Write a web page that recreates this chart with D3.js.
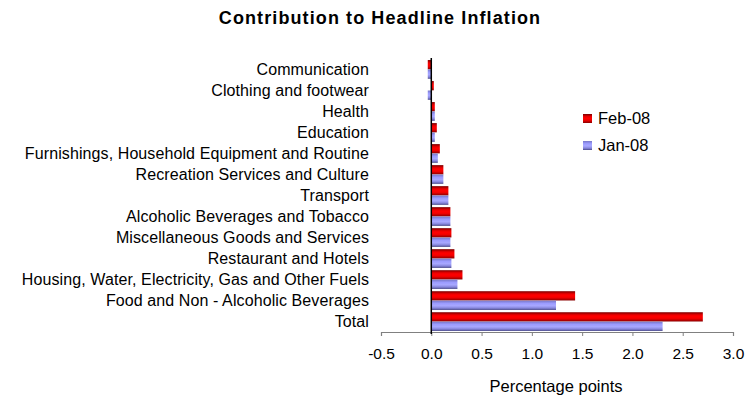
<!DOCTYPE html>
<html>
<head>
<meta charset="utf-8">
<script src="https://cdn.jsdelivr.net/npm/d3@7"></script>
<style>
  html, body { margin: 0; padding: 0; background: #fff; }
  svg { display: block; font-family: "Liberation Sans", Arial, sans-serif; }
</style>
</head>
<body>
<svg id="chart" width="748" height="401"></svg>
<script>
// Categories, listed top to bottom
const categories = [
  "Communication",
  "Clothing and footwear",
  "Health",
  "Education",
  "Furnishings, Household Equipment and Routine",
  "Recreation Services and Culture",
  "Transport",
  "Alcoholic Beverages and Tobacco",
  "Miscellaneous Goods and Services",
  "Restaurant and Hotels",
  "Housing, Water, Electricity, Gas and Other Fuels",
  "Food and Non - Alcoholic Beverages",
  "Total"
];
const seriesNames = ["Feb-08", "Jan-08"];
const feb08 = [-0.035, 0.025, 0.035, 0.055, 0.085, 0.12, 0.17, 0.19, 0.20, 0.23, 0.31, 1.43, 2.70];
const jan08 = [-0.035, -0.035, 0.035, 0.035, 0.065, 0.12, 0.17, 0.19, 0.19, 0.20, 0.26, 1.24, 2.30];
const xTicks = [-0.5, 0.0, 0.5, 1.0, 1.5, 2.0, 2.5, 3.0];

const seriesValues = { "Feb-08": feb08, "Jan-08": jan08 };
const svg = d3.select("#chart");

// Bar shading: darker edges, bright middle
const defs = svg.append("defs");
function gradient(id, stops) {
  const g = defs.append("linearGradient").attr("id", id)
    .attr("x1", 0).attr("y1", 0).attr("x2", 0).attr("y2", 1);
  stops.forEach(([o, c]) => g.append("stop").attr("offset", o).attr("stop-color", c));
}
gradient("g-feb", [[0, "#7a0000"], [0.3, "#ee0000"], [0.5, "#ff0000"], [0.7, "#ee0000"], [1, "#8a0000"]]);
gradient("g-jan", [[0, "#7878c8"], [0.3, "#9c9cff"], [0.55, "#a8a8ff"], [0.8, "#8585dc"], [1, "#4a4a88"]]);
const fills = { "Feb-08": "url(#g-feb)", "Jan-08": "url(#g-jan)" };

const x = d3.scaleLinear().domain([-0.5, 3.0]).range([381, 733]);
const y = d3.scaleBand().domain(categories).range([59, 332]).paddingInner(0.09).paddingOuter(0.04);
const ySub = d3.scaleBand().domain(seriesNames).range([0, y.bandwidth()]).padding(0.02);

// Title
svg.append("text")
  .attr("x", 380).attr("y", 24)
  .attr("text-anchor", "middle")
  .attr("font-size", 18).attr("font-weight", "bold")
  .attr("letter-spacing", 1.1)
  .text("Contribution to Headline Inflation");

// Bars
const groups = svg.append("g").selectAll("g")
  .data(categories)
  .join("g")
  .attr("transform", d => `translate(0,${y(d)})`);

groups.selectAll("rect")
  .data((c, i) => seriesNames.map(s => ({ s, v: seriesValues[s][i] })))
  .join("rect")
  .attr("x", d => x(Math.min(0, d.v)))
  .attr("width", d => Math.abs(x(d.v) - x(0)))
  .attr("y", d => ySub(d.s))
  .attr("height", ySub.bandwidth())
  .attr("fill", d => fills[d.s]);

// Category labels
svg.append("g").selectAll("text")
  .data(categories)
  .join("text")
  .attr("x", 369)
  .attr("y", d => y(d) + y.bandwidth() / 2)
  .attr("dy", "0.35em")
  .attr("text-anchor", "end")
  .attr("font-size", 16)
  .attr("letter-spacing", 0.1)
  .attr("fill", "#000")
  .text(d => d);

// X axis
const fmt = d3.format(".1f");
const xAxis = svg.append("g")
  .attr("transform", "translate(0,332)")
  .call(d3.axisBottom(x).tickValues(xTicks)
    .tickFormat(d => fmt(d).replace("\u2212", "-"))
    .tickSize(4).tickPadding(12));
xAxis.select(".domain").attr("stroke", "#808080").attr("stroke-width", 1.2);
xAxis.selectAll(".tick line").attr("stroke", "#808080");
xAxis.selectAll(".tick text").attr("font-size", 15.5).attr("fill", "#000")
  .attr("font-family", "Liberation Sans, Arial, sans-serif");

// Zero line
svg.append("line")
  .attr("x1", x(0)).attr("x2", x(0))
  .attr("y1", 58).attr("y2", 334)
  .attr("stroke", "#000").attr("stroke-width", 1.5);

// Axis title
svg.append("text")
  .attr("x", 556).attr("y", 392)
  .attr("text-anchor", "middle")
  .attr("font-size", 16.5)
  .text("Percentage points");

// Legend
const legend = svg.append("g").selectAll("g")
  .data(seriesNames)
  .join("g")
  .attr("transform", (d, i) => `translate(583,${114 + i * 27})`);
legend.append("rect").attr("width", 9).attr("height", 9).attr("fill", d => fills[d]);
legend.append("text")
  .attr("x", 15).attr("y", 4.5).attr("dy", "0.36em")
  .attr("font-size", 16.5)
  .text(d => d);
</script>
</body>
</html>
